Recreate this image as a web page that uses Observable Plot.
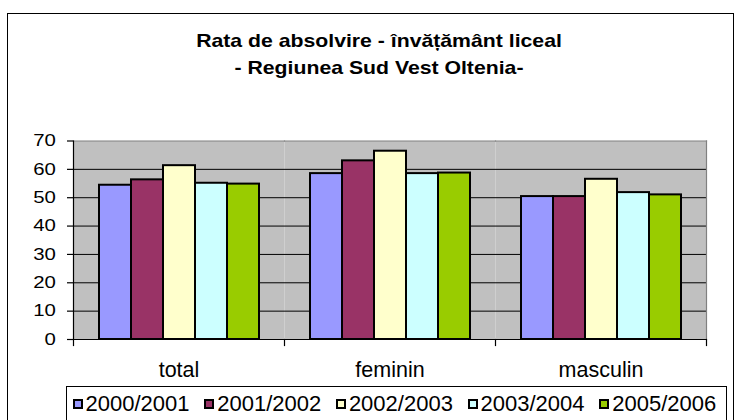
<!DOCTYPE html>
<html>
<head>
<meta charset="utf-8">
<script src="https://cdn.jsdelivr.net/npm/d3@7"></script>
<script src="https://cdn.jsdelivr.net/npm/@observablehq/plot@0.6"></script>
<style>
  html, body { margin: 0; padding: 0; background: #fff; }
  #chart { position: relative; width: 737px; height: 420px; overflow: hidden; font-family: "Liberation Sans", Arial, sans-serif; }
  #border { position: absolute; left: 7px; top: 13px; width: 725px; height: 420px; border: 1px solid #000; }
  #title { position: absolute; left: 0; top: 28px; width: 758px; text-align: center; font-weight: bold; font-size: 17.7px; line-height: 27.3px; color: #000; transform: scaleX(1.2); transform-origin: 379px 0; }
  #plot { position: absolute; left: 0; top: 100px; }
  #legend { position: absolute; left: 66px; top: 386px; width: 661px; height: 40px; border: 1px solid #000; box-sizing: border-box; background: #fff; }
  #legend .row { position: absolute; left: 5.5px; top: 6px; display: flex; align-items: center; }
  #legend .item { display: flex; align-items: center; width: 131.7px; }
  #legend .sw { width: 10px; height: 10px; border: 2px solid #000; box-sizing: border-box; margin-right: 3px; }
  #legend .lab { font-size: 22px; line-height: 22px; color: #000; white-space: nowrap; }
</style>
</head>
<body>
<div id="chart">
  <div id="border"></div>
  <div id="title">Rata de absolvire - învățământ liceal<br>- Regiunea Sud Vest Oltenia-</div>
  <div id="plot"></div>
  <div id="legend"><div class="row"></div></div>
</div>
<script>
const categories = ["total", "feminin", "masculin"];
const years = ["2000/2001", "2001/2002", "2002/2003", "2003/2004", "2005/2006"];
const v2000_2001 = [54.4, 58.5, 50.4];
const v2001_2002 = [56.3, 63.0, 50.4];
const v2002_2003 = [61.3, 66.4, 56.5];
const v2003_2004 = [55.1, 58.5, 51.8];
const v2005_2006 = [54.8, 58.7, 51.0];
const yTicks = [0, 10, 20, 30, 40, 50, 60, 70];
const colors = ["#9999FF", "#993366", "#FFFFCC", "#CCFFFF", "#99CC00"];

const series = [v2000_2001, v2001_2002, v2002_2003, v2003_2004, v2005_2006];
const data = [];
categories.forEach((c, i) => {
  years.forEach((y, j) => data.push({category: c, year: y, value: series[j][i]}));
});

const W = 737, H = 290, mT = 40.5, mB = 51, mL = 72, mR = 31;
const innerH = H - mT - mB;
const gridTicks = yTicks.filter(d => d > 0 && d < 70);
const yTickSize = 6, yTickPad = 12;

const chart = Plot.plot({
  width: W, height: H,
  marginLeft: mL, marginRight: mR, marginTop: mT, marginBottom: mB,
  style: {fontFamily: "'Liberation Sans', Arial, sans-serif", background: "transparent", overflow: "visible", color: "#000"},
  fx: {domain: categories, padding: 0, label: null},
  x: {domain: years, paddingInner: 0, paddingOuter: 0.75, axis: null},
  y: {domain: [0, 70], label: null},
  color: {domain: years, range: colors},
  marks: [
    Plot.frame({fill: "#c0c0c0", stroke: "none"}),
    Plot.ruleY(gridTicks, {stroke: "#000", strokeWidth: 1}),
    Plot.frame({anchor: "top", stroke: "#808080", strokeWidth: 1.2}),
    Plot.frame({anchor: "right", stroke: "#808080", strokeWidth: 1.2, facetAnchor: "right"}),
    Plot.barY(data, {fx: "category", x: "year", y: "value", fill: "year", stroke: "#000", strokeWidth: 2}),
    Plot.ruleY([0], {stroke: "#000", strokeWidth: 1.2}),
    Plot.frame({anchor: "left", stroke: "#000", strokeWidth: 1.2, facetAnchor: "left"}),
    Plot.frame({anchor: "left", stroke: "#000", strokeWidth: 1.2, insetTop: innerH, insetBottom: -6}),
    Plot.frame({anchor: "right", stroke: "#000", strokeWidth: 1.2, insetTop: innerH, insetBottom: -6, facetAnchor: "right"}),
    Plot.axisY({ticks: yTicks, tickSize: yTickSize, tickPadding: yTickPad, fontSize: 16.3, tickFormat: d => String(d), label: null, strokeWidth: 1.2}),
    Plot.axisFx({anchor: "bottom", tickSize: 0, tickPadding: 22.4, fontSize: 21.5, label: null})
  ]
});
document.getElementById("plot").appendChild(chart);

// horizontal stretch of the y tick labels (the reference text is widened), about their right edge
const stretch = 1.25;
const ax = mL - yTickSize - yTickPad;
d3.select(chart).selectAll("g[aria-label='y-axis tick label']").each(function() {
  const g = this;
  const wrap = document.createElementNS("http://www.w3.org/2000/svg", "g");
  wrap.setAttribute("transform", `translate(${ax},0) scale(${stretch},1) translate(${-ax},0)`);
  g.parentNode.insertBefore(wrap, g);
  wrap.appendChild(g);
});

const row = document.querySelector("#legend .row");
years.forEach((y, j) => {
  const item = document.createElement("div");
  item.className = "item";
  const sw = document.createElement("div");
  sw.className = "sw";
  sw.style.background = colors[j];
  const lab = document.createElement("span");
  lab.className = "lab";
  lab.textContent = y;
  item.appendChild(sw);
  item.appendChild(lab);
  row.appendChild(item);
});
</script>
</body>
</html>
